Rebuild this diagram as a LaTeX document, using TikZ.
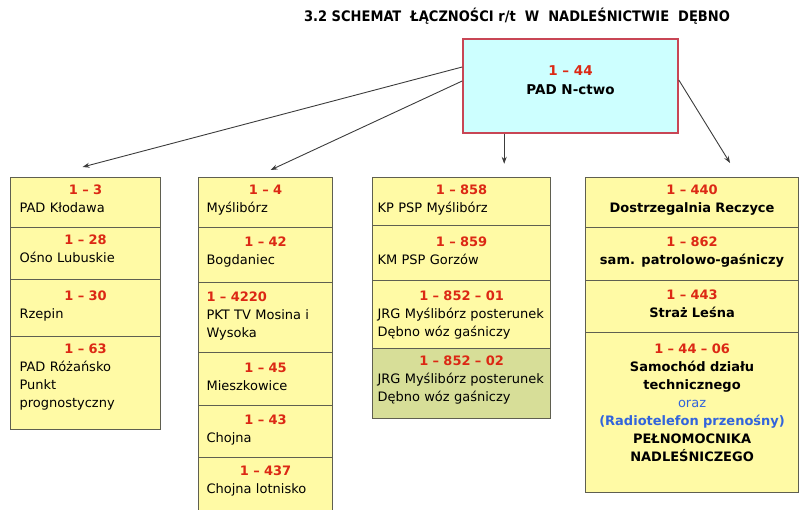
\documentclass[tikz,border=0pt]{standalone}
\usepackage{fontspec}
\setmainfont{DejaVu Sans}
\newfontfamily\titlefont{DejaVu Sans Condensed}
\usetikzlibrary{arrows.meta}

\definecolor{cellyellow}{RGB}{255,250,165}
\definecolor{cellolive}{RGB}{215,222,152}
\definecolor{celledge}{RGB}{95,95,80}
\definecolor{topcyan}{RGB}{205,255,255}
\definecolor{topedge}{RGB}{200,70,85}
\definecolor{numred}{RGB}{220,40,20}
\definecolor{radioblue}{RGB}{50,100,220}
\definecolor{linkgray}{RGB}{60,60,60}

\newcommand{\nrc}[1]{\textcolor{numred}{\bfseries #1}}
\newcommand{\nr}[1]{\makebox[\linewidth]{\nrc{#1}}}

\tikzset{
  cell/.style={draw=celledge, line width=1.1pt, fill=cellyellow, anchor=north west, inner sep=0pt},
  txt/.style={anchor=north, inner sep=0pt, align=left, font=\fontsize{13}{18}\selectfont},
  txtc/.style={anchor=north, inner sep=0pt, align=center, font=\fontsize{13}{18}\selectfont\bfseries},
  link/.style={-{Stealth[length=7pt,width=5pt]}, draw=linkgray, line width=0.9pt},
}

\begin{document}
\begin{tikzpicture}[x=1pt, y=-1pt]
\useasboundingbox (0,0) rectangle (800,509);

\node[font=\titlefont\bfseries\fontsize{14.5}{16}\selectfont] (title) at (517,16)
  {3.2 SCHEMAT\ \ ŁĄCZNOŚCI r/t\ \ W\ \ NADLEŚNICTWIE\ \ DĘBNO};

% ---------- central station ----------
\node[draw=topedge, line width=1.6pt, fill=topcyan, minimum width=215, minimum height=94] (top) at (570.5,86) {};
\node[align=center, font=\fontsize{13.5}{19}\selectfont\bfseries] (toptext) at ([yshift=6]top.center)
  {\nrc{1 – 44}\\PAD N-ctwo};

% ---------- column 1 ----------
\node[cell, minimum width=150, minimum height=50] (k1a) at (10,177) {};
\node[cell, minimum width=150, minimum height=52] (k1b) at (10,227) {};
\node[cell, minimum width=150, minimum height=57] (k1c) at (10,279) {};
\node[cell, minimum width=150, minimum height=93] (k1d) at (10,336) {};
\node[txt, text width=132] (t1a) at ([yshift=-8]k1a.north) {\nr{1 – 3}\\PAD Kłodawa};
\node[txt, text width=132] (t1b) at ([yshift=-8]k1b.north) {\nr{1 – 28}\\Ośno Lubuskie};
\node[txt, text width=132] (t1c) at ([yshift=-12]k1c.north) {\nr{1 – 30}\\Rzepin};
\node[txt, text width=132] (t1d) at ([yshift=-8]k1d.north) {\nr{1 – 63}\\PAD Różańsko\\Punkt\\prognostyczny};

% ---------- column 2 ----------
\node[cell, minimum width=134, minimum height=50] (k2a) at (198,177) {};
\node[cell, minimum width=134, minimum height=55] (k2b) at (198,227) {};
\node[cell, minimum width=134, minimum height=70] (k2c) at (198,282) {};
\node[cell, minimum width=134, minimum height=53] (k2d) at (198,352) {};
\node[cell, minimum width=134, minimum height=52] (k2e) at (198,405) {};
\node[cell, minimum width=134, minimum height=60] (k2f) at (198,457) {};
\node[txt, text width=118] (t2a) at ([yshift=-8]k2a.north) {\nr{1 – 4}\\Myślibórz};
\node[txt, text width=118] (t2b) at ([yshift=-10]k2b.north) {\nr{1 – 42}\\Bogdaniec};
\node[txt, text width=118] (t2c) at ([yshift=-10]k2c.north) {\nrc{1 – 4220}\\PKT TV Mosina i\\Wysoka};
\node[txt, text width=118] (t2d) at ([yshift=-11]k2d.north) {\nr{1 – 45}\\Mieszkowice};
\node[txt, text width=118] (t2e) at ([yshift=-10]k2e.north) {\nr{1 – 43}\\Chojna};
\node[txt, text width=118] (t2f) at ([yshift=-9]k2f.north) {\nr{1 – 437}\\Chojna lotnisko};

% ---------- column 3 ----------
\node[cell, minimum width=178, minimum height=48] (k3a) at (372,177) {};
\node[cell, minimum width=178, minimum height=55] (k3b) at (372,225) {};
\node[cell, minimum width=178, minimum height=68] (k3c) at (372,280) {};
\node[cell, fill=cellolive, minimum width=178, minimum height=70] (k3d) at (372,348) {};
\node[txt, text width=168] (t3a) at ([yshift=-8]k3a.north) {\nr{1 – 858}\\KP PSP Myślibórz};
\node[txt, text width=168] (t3b) at ([yshift=-12]k3b.north) {\nr{1 – 859}\\KM PSP Gorzów};
\node[txt, text width=168] (t3c) at ([yshift=-11]k3c.north) {\nr{1 – 852 – 01}\\JRG Myślibórz posterunek\\Dębno wóz gaśniczy};
\node[txt, text width=168] (t3d) at ([yshift=-8]k3d.north) {\nr{1 – 852 – 02}\\JRG Myślibórz posterunek\\Dębno wóz gaśniczy};

% ---------- column 4 ----------
\node[cell, minimum width=213, minimum height=50]  (k4a) at (585,177) {};
\node[cell, minimum width=213, minimum height=53]  (k4b) at (585,227) {};
\node[cell, minimum width=213, minimum height=52]  (k4c) at (585,280) {};
\node[cell, minimum width=213, minimum height=160] (k4d) at (585,332) {};
\node[txtc, text width=205] (t4a) at ([yshift=-8]k4a.north) {\nrc{1 – 440}\\Dostrzegalnia Reczyce};
\node[txtc, text width=205] (t4b) at ([yshift=-10]k4b.north) {\nrc{1 – 862}\\sam. patrolowo-gaśniczy};
\node[txtc, text width=205] (t4c) at ([yshift=-10]k4c.north) {\nrc{1 – 443}\\Straż Leśna};
\node[txtc, text width=205] (t4d) at ([yshift=-12]k4d.north)
  {\nrc{1 – 44 – 06}\\Samochód działu\\technicznego\\{\color{radioblue}\mdseries oraz}\\
   {\color{radioblue}(Radiotelefon przenośny)}\\PEŁNOMOCNIKA\\NADLEŚNICZEGO};

% ---------- links ----------
\draw[link] ([yshift=19]top.west) -- ([xshift=-3,yshift=10]k1a.north);
\draw[link] ([yshift=5]top.west) -- ([xshift=5,yshift=7]k2a.north);
\draw[link] ([xshift=42]top.south west) -- ++(0,30);
\draw[link] ([yshift=6]top.east) -- ([xshift=38,yshift=14]k4a.north);

\end{tikzpicture}
\end{document}
